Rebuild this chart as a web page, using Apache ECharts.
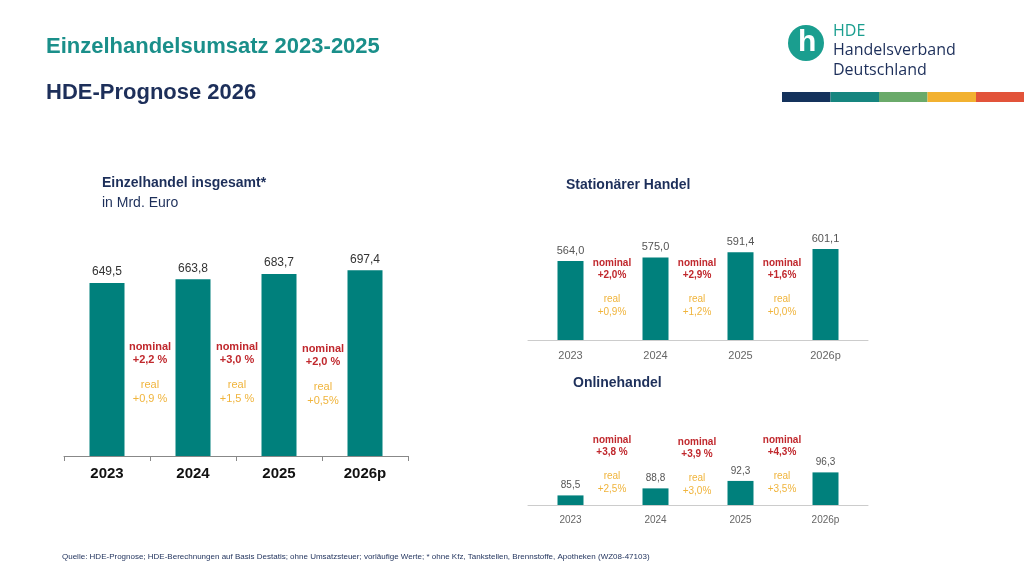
<!DOCTYPE html>
<html><head><meta charset="utf-8">
<script src="https://cdn.jsdelivr.net/npm/echarts@6/dist/echarts.min.js"></script>
<style>body{margin:0;background:#fff}#c{width:1024px;height:576px}</style>
</head><body><div id="c"></div>
<script>
var years = ['2023', '2024', '2025', '2026p'];
var gesamt = [649.5, 663.8, 683.7, 697.4];
var stationaer = [564.0, 575.0, 591.4, 601.1];
var online = [85.5, 88.8, 92.3, 96.3];
var teal = '#00807c', red = '#c0282d', gold = '#f0b43c';
var fmt = function (p) { return p.value.toFixed(1).replace('.', ','); };

// growth annotations: [x, y, nominal, real]
var notes = [
  [150, 340, '+2,2 %', '+0,9 %'], [237, 340, '+3,0 %', '+1,5 %'], [323, 342, '+2,0 %', '+0,5%'],
  [612, 257, '+2,0%', '+0,9%'], [697, 257, '+2,9%', '+1,2%'], [782, 257, '+1,6%', '+0,0%'],
  [612, 434, '+3,8 %', '+2,5%'], [697, 436, '+3,9 %', '+3,0%'], [782, 434, '+4,3%', '+3,5%']
];
var graphic = [
  {type: 'text', left: 46, top: 36, style: {text: 'Einzelhandelsumsatz 2023-2025', font: 'bold 22px Arial', fill: '#1a8f8a'}},
  {type: 'text', left: 46, top: 82, style: {text: 'HDE-Prognose 2026', font: 'bold 22px Arial', fill: '#1d2f5a'}},
  {type: 'text', left: 102, top: 176, style: {text: 'Einzelhandel insgesamt*', font: 'bold 14px Arial', fill: '#1d2f5a'}},
  {type: 'text', left: 102, top: 196, style: {text: 'in Mrd. Euro', font: '14px Arial', fill: '#1d2f5a'}},
  {type: 'text', left: 566, top: 178, style: {text: 'Stationärer Handel', font: 'bold 14px Arial', fill: '#1d2f5a'}},
  {type: 'text', left: 573, top: 376, style: {text: 'Onlinehandel', font: 'bold 14px Arial', fill: '#1d2f5a'}},
  {type: 'circle', shape: {cx: 806, cy: 43, r: 18}, style: {fill: '#1a9e8f'}},
  {type: 'text', left: 798, top: 28, style: {text: 'h', font: 'bold 30px Arial', fill: '#fff'}},
  {type: 'text', left: 833, top: 23, style: {text: 'HDE', font: '16px "Open Sans"', fill: '#1a9e8f'}},
  {type: 'text', left: 833, top: 42, style: {text: 'Handelsverband', font: '16px "Open Sans"', fill: '#1d2f5a'}},
  {type: 'text', left: 833, top: 62, style: {text: 'Deutschland', font: '16px "Open Sans"', fill: '#1d2f5a'}},
  {type: 'text', left: 62, top: 553, style: {text: 'Quelle: HDE-Prognose; HDE-Berechnungen auf Basis Destatis; ohne Umsatzsteuer; vorläufige Werte; * ohne Kfz, Tankstellen, Brennstoffe, Apotheken (WZ08-47103)', font: '8px Arial', fill: '#1d2f5a'}}
];
['#14325c', '#16857f', '#6aaa6a', '#f2b130', '#e2533a'].forEach(function (c, i) {
  graphic.push({type: 'rect', shape: {x: 782 + i * 48.5, y: 92, width: 48.5, height: 10}, style: {fill: c}});
});
notes.forEach(function (n, i) {
  var big = i < 3, f = big ? 11 : 10;
  graphic.push({type: 'text', x: n[0], y: n[1], style: {text: 'nominal\n' + n[2], font: 'bold ' + f + 'px Arial', fill: red, align: 'center', lineHeight: f + 2}});
  graphic.push({type: 'text', x: n[0], y: n[1] + (big ? 38 : 36), style: {text: 'real\n' + n[3], font: f + 'px Arial', fill: gold, align: 'center', lineHeight: f + 3}});
});

function xAxis(idx, size, bold, color, lineColor) {
  return {gridIndex: idx, type: 'category', data: years,
    axisLine: {lineStyle: {color: lineColor}}, axisTick: {show: idx === 0, lineStyle: {color: lineColor}},
    axisLabel: {fontSize: size, fontWeight: bold ? 'bold' : 'normal', color: color, margin: 10, fontFamily: 'Arial'}};
}
function yAxis(idx, min, max) {
  return {gridIndex: idx, type: 'value', min: min, max: max, show: false, splitLine: {show: false}};
}
function bar(idx, data, w, fs, c) {
  return {type: 'bar', xAxisIndex: idx, yAxisIndex: idx, data: data, barWidth: w, itemStyle: {color: teal},
    label: {show: true, position: 'top', formatter: fmt, fontSize: fs, color: c, fontFamily: 'Arial'}};
}
var chart = echarts.init(document.getElementById('c'));
chart.setOption({
  animation: false,
  graphic: graphic,
  grid: [
    {left: 64, width: 344, top: 243, height: 213},
    {left: 528, width: 340, top: 230, height: 110},
    {left: 528, width: 340, top: 440, height: 65}
  ],
  xAxis: [xAxis(0, 15, true, '#111', '#888'), xAxis(1, 11, false, '#666', '#ccc'), xAxis(2, 10, false, '#666', '#ccc')],
  yAxis: [yAxis(0, 0, 800), yAxis(1, 320, 660), yAxis(2, 81, 111.5)],
  series: [bar(0, gesamt, 35, 12, '#333'), bar(1, stationaer, 26, 11, '#555'), bar(2, online, 26, 10, '#555')]
});
</script></body></html>
